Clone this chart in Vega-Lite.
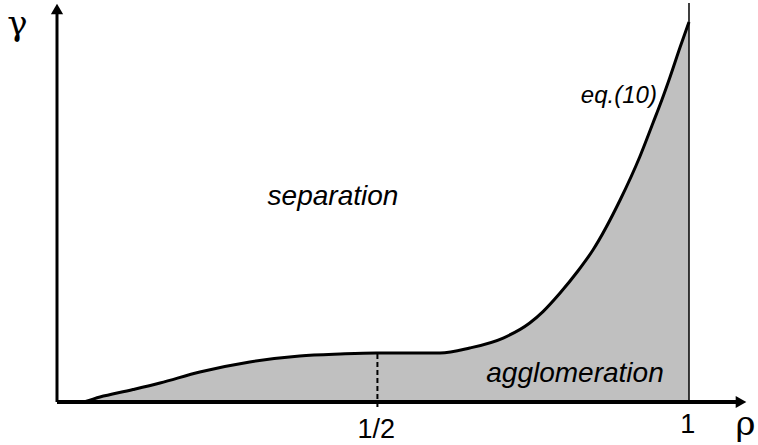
{
  "$schema": "https://vega.github.io/schema/vega-lite/v6.json",
  "width": 758,
  "height": 445,
  "padding": 0,
  "autosize": {"type": "none"},
  "background": "white",
  "config": {"view": {"stroke": null}},
  "datasets": {
    "curve": [
      {"rho": 0.0, "gamma": 0.0},
      {"rho": 0.0364, "gamma": 0.0},
      {"rho": 0.068, "gamma": 0.0132},
      {"rho": 0.1203, "gamma": 0.0329},
      {"rho": 0.163, "gamma": 0.05},
      {"rho": 0.226, "gamma": 0.0789},
      {"rho": 0.305, "gamma": 0.1053},
      {"rho": 0.384, "gamma": 0.1211},
      {"rho": 0.448, "gamma": 0.1263},
      {"rho": 0.505, "gamma": 0.1289},
      {"rho": 0.606, "gamma": 0.1289},
      {"rho": 0.653, "gamma": 0.1421},
      {"rho": 0.706, "gamma": 0.1684},
      {"rho": 0.748, "gamma": 0.2079},
      {"rho": 0.769, "gamma": 0.238},
      {"rho": 0.796, "gamma": 0.2868},
      {"rho": 0.823, "gamma": 0.3421},
      {"rho": 0.848, "gamma": 0.4},
      {"rho": 0.891, "gamma": 0.5316},
      {"rho": 0.922, "gamma": 0.6447},
      {"rho": 0.943, "gamma": 0.7342},
      {"rho": 0.957, "gamma": 0.7947},
      {"rho": 0.97, "gamma": 0.8553},
      {"rho": 0.986, "gamma": 0.9342},
      {"rho": 1.0, "gamma": 1.0}
    ],
    "xaxis": [{"rho": 0, "rho2": 1.075, "gamma": 0}],
    "yaxis": [{"rho": 0, "gamma": 0, "gamma2": 1.026}],
    "xarrow": [{"rho": 1.0823, "gamma": 0}],
    "yarrow": [{"rho": 0, "gamma": 1.0342}],
    "edge": [{"rho": 1.0, "gamma": 0, "gamma2": 1.05}],
    "half": [{"rho": 0.507, "gamma": -0.013, "gamma2": 0.1263}],
    "regions": [
      {"text": "separation", "rho": 0.4367, "gamma": 0.5184},
      {"text": "agglomeration", "rho": 0.8196, "gamma": 0.0526}
    ],
    "eqlabel": [{"text": "eq.(10)", "rho": 0.889, "gamma": 0.787}],
    "ticks": [
      {"text": "1/2", "rho": 0.505, "gamma": -0.0947},
      {"text": "1", "rho": 0.998, "gamma": -0.0816}
    ],
    "greek": [
      {"text": "γ", "rho": -0.0625, "gamma": 0.966},
      {"text": "ρ", "rho": 1.0894, "gamma": -0.0868}
    ]
  },
  "encoding": {
    "x": {"field": "rho", "type": "quantitative", "axis": null,
          "scale": {"domain": [-0.09019, 1.10918], "nice": false, "zero": false}},
    "y": {"field": "gamma", "type": "quantitative", "axis": null,
          "scale": {"domain": [-0.11316, 1.05789], "nice": false, "zero": false}}
  },
  "layer": [
    {
      "data": {"name": "curve"},
      "mark": {"type": "area", "color": "#c0c0c0", "interpolate": "monotone"},
      "encoding": {}
    },
    {
      "data": {"name": "edge"},
      "mark": {"type": "rule", "color": "black", "strokeWidth": 1.5},
      "encoding": {"y2": {"field": "gamma2"}}
    },
    {
      "data": {"name": "half"},
      "mark": {"type": "rule", "color": "black", "strokeWidth": 2, "strokeDash": [5, 3]},
      "encoding": {"y2": {"field": "gamma2"}}
    },
    {
      "data": {"name": "curve"},
      "mark": {"type": "line", "color": "black", "strokeWidth": 3, "interpolate": "monotone"},
      "encoding": {}
    },
    {
      "data": {"name": "xaxis"},
      "mark": {"type": "rule", "color": "black", "strokeWidth": 4},
      "encoding": {"x2": {"field": "rho2"}}
    },
    {
      "data": {"name": "yaxis"},
      "mark": {"type": "rule", "color": "black", "strokeWidth": 3},
      "encoding": {"y2": {"field": "gamma2"}}
    },
    {
      "data": {"name": "xarrow"},
      "mark": {"type": "point", "shape": "triangle-right", "filled": true, "color": "black", "size": 150, "opacity": 1},
      "encoding": {}
    },
    {
      "data": {"name": "yarrow"},
      "mark": {"type": "point", "shape": "triangle-up", "filled": true, "color": "black", "size": 150, "opacity": 1},
      "encoding": {}
    },
    {
      "data": {"name": "regions"},
      "mark": {"type": "text", "font": "Liberation Sans", "fontStyle": "italic", "fontSize": 28, "align": "center", "baseline": "alphabetic", "color": "black"},
      "encoding": {"text": {"field": "text"}}
    },
    {
      "data": {"name": "eqlabel"},
      "mark": {"type": "text", "font": "Liberation Sans", "fontStyle": "italic", "fontSize": 24, "align": "center", "baseline": "alphabetic", "color": "black"},
      "encoding": {"text": {"field": "text"}}
    },
    {
      "data": {"name": "ticks"},
      "mark": {"type": "text", "font": "Liberation Sans", "fontSize": 27, "align": "center", "baseline": "alphabetic", "color": "black"},
      "encoding": {"text": {"field": "text"}}
    },
    {
      "data": {"name": "greek"},
      "mark": {"type": "text", "font": "DejaVu Serif", "fontSize": 34, "align": "center", "baseline": "alphabetic", "color": "black"},
      "encoding": {"text": {"field": "text"}}
    }
  ]
}
